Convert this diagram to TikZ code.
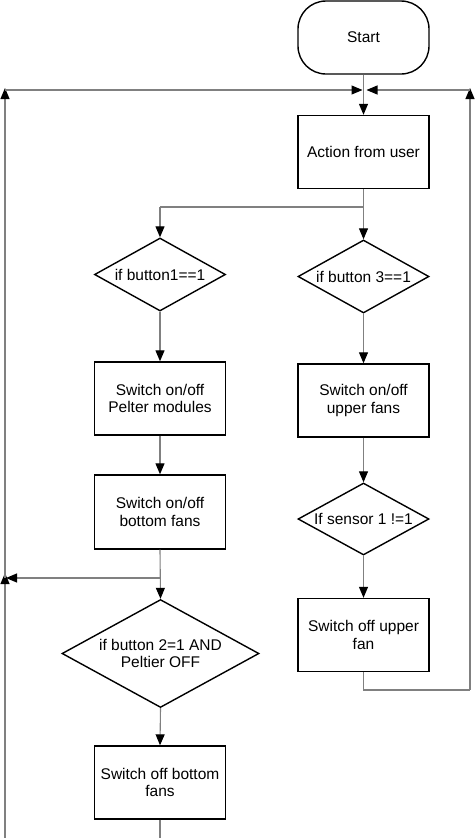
\documentclass[tikz,border=0pt]{standalone}
\usepackage{fontspec}
\setmainfont{Liberation Sans}
\usetikzlibrary{shapes.geometric,arrows.meta}
\begin{document}
\begin{tikzpicture}[x=1pt,y=-1pt,
  font=\fontsize{15.5}{17.5}\selectfont,
  box/.style={draw=black,line width=1.4pt,rectangle,minimum width=131pt,minimum height=73pt,inner sep=0pt,align=center},
  term/.style={box,rounded corners=28pt},
  dec/.style={draw=black,line width=1.4pt,diamond,shape aspect=2,minimum width=131pt,minimum height=73pt,inner sep=0pt,align=center},
  conn/.style={draw=gray,line width=1.1pt},
  arr/.style={conn,-{Triangle[length=11pt,width=9pt,color=black]}}]
\useasboundingbox (0,0) rectangle (474,838);
\fill[white] (0,0) rectangle (474,838);
% nodes
\node[term] (start) at (363.5,37.5) {Start};
\node[box] (action) at (363.5,152) {Action from user};
\node[dec] (d1) at (160,274.5) {if button1==1};
\node[dec] (d2) at (363.5,276.5) {if button 3==1};
\node[box] (p1) at (160,398.5) {Switch on/off\\Pelter modules};
\node[box] (u1) at (363.5,400.5) {Switch on/off\\upper fans};
\node[box,minimum height=74pt] (b1) at (160,512) {Switch on/off\\bottom fans};
\node[dec,minimum height=72pt] (s1) at (363.5,519) {If sensor 1 !=1};
\node[box] (uf) at (363.5,635) {Switch off upper\\fan};
\node[dec,minimum width=197pt,minimum height=108pt] (d3) at (160.5,653.5) {if button 2=1 AND\\Peltier OFF};
\node[box] (bf) at (160,782.5) {Switch off bottom\\fans};
% coordinates
\coordinate (j0) at (363.5,90);
\coordinate (j1) at (363.5,207);
\coordinate (j2) at (160,207);
\coordinate (j3) at (160,578);
\coordinate (lm) at (5,578);
\coordinate (lt) at (5,90);
\coordinate (lb) at (5,838);
\coordinate (bb) at (160,838);
\coordinate (r1) at (363.5,690);
\coordinate (r2) at (470,690);
\coordinate (r3) at (470,90);
% connectors
\draw[arr] (start.south) -- (action.north);
\draw[conn] (action.south) -- (j1) -- (j2);
\draw[arr] (j2) -- (d1.north);
\draw[arr] (j1) -- (d2.north);
\draw[arr] (d1.south) -- (p1.north);
\draw[arr] (d2.south) -- (u1.north);
\draw[arr] (p1.south) -- (b1.north);
\draw[arr] (u1.south) -- (s1.north);
\draw[arr] (s1.south) -- (uf.north);
\draw[arr] (b1.south) -- (d3.north);
\draw[arr] (d3.south) -- (bf.north);
\draw[conn] (bf.south) -- (bb);
\draw[arr] (j3) -- ([xshift=1pt]lm);
\draw[arr] (lb) -- ([yshift=5pt]lm);
\draw[arr] (lm) -- ([yshift=2pt]lt);
\draw[arr] (lt) -- ([xshift=-1pt]j0);
\draw[conn] (uf.south) -- (r1) -- (r2);
\draw[arr] (r2) -- ([yshift=2pt]r3);
\draw[arr] (r3) -- ([xshift=3pt]j0);
\end{tikzpicture}
\end{document}
